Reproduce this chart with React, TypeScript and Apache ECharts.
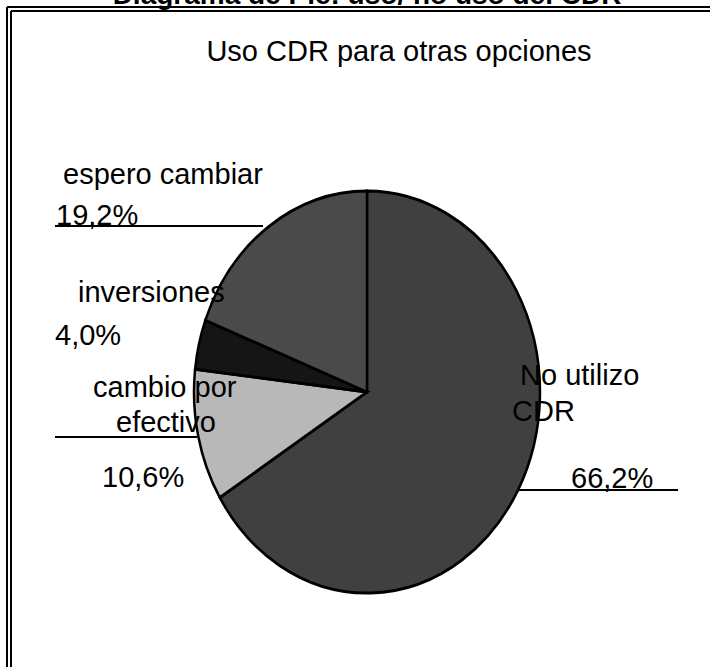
import React, { useEffect, useRef } from "react";
import * as echarts from "echarts";

// ---- data ----
const categories: string[] = ["No utilizo\nCDR", "cambio por\nefectivo", "inversiones", "espero cambiar"];
const values: number[] = [66.2, 10.6, 4.0, 19.2];
const sliceColors: string[] = ["#404040", "#b8b8b8", "#151515", "#4a4a4a"];
const mainTitle = "Diagrama de Pie: uso/ no uso del CDR";
const subTitle = "Uso CDR para otras opciones";

// ---- layout ----
const W = 710;
const H = 667;
const CX = 367;
const CY = 392;
const RX = 173;
const RY = 201;
const FONT = "'Liberation Sans', Arial, Helvetica, sans-serif";
const LABEL_SIZE = 29;

// per slice: name-line positions (left x, middle y), percent position, leader line [x1, x2, y]
const labelLayout = [
  { names: [[520, 375], [512, 411]], pct: [571, 478], leader: [518, 678, 490] },
  { names: [[93, 387], [116, 422]], pct: [102, 477], leader: [55, 197, 437] },
  { names: [[78, 292]], pct: [55, 335], leader: null },
  { names: [[63, 174]], pct: [56, 215], leader: [55, 263, 226] },
];

const fmtPct = (v: number) => v.toFixed(1).replace(".", ",") + "%";

export default function App() {
  const ref = useRef<HTMLDivElement>(null);

  useEffect(() => {
    if (!ref.current) return;
    const chart = echarts.init(ref.current, undefined, { renderer: "svg" });
    const total = values.reduce((a, b) => a + b, 0);

    const graphics: any[] = [];
    // double frame (left + top)
    graphics.push(
      { type: "line", shape: { x1: 7, y1: 7, x2: W, y2: 7 }, style: { stroke: "#000", lineWidth: 2 }, z: 50 },
      { type: "line", shape: { x1: 7, y1: 7, x2: 7, y2: H }, style: { stroke: "#000", lineWidth: 2 }, z: 50 },
      { type: "line", shape: { x1: 11, y1: 11, x2: W, y2: 11 }, style: { stroke: "#000", lineWidth: 2 }, z: 50 },
      { type: "line", shape: { x1: 11, y1: 11, x2: 11, y2: H }, style: { stroke: "#000", lineWidth: 2 }, z: 50 }
    );
    graphics.push({
      type: "text",
      x: 367,
      y: -6,
      z: 50,
      style: {
        text: mainTitle,
        font: `bold 28px ${FONT}`,
        fill: "#000",
        align: "center",
        verticalAlign: "middle",
      },
    });
    graphics.push({
      type: "text",
      x: 399,
      y: 51,
      z: 50,
      style: {
        text: subTitle,
        font: `29px ${FONT}`,
        fill: "#000",
        align: "center",
        verticalAlign: "middle",
      },
    });

    categories.forEach((name, i) => {
      const lay = labelLayout[i];
      const parts = name.split("\n");
      parts.forEach((p, k) => {
        graphics.push({
          type: "text",
          x: lay.names[k][0],
          y: lay.names[k][1],
          z: 60,
          style: { text: p, font: `${LABEL_SIZE}px ${FONT}`, fill: "#000", align: "left", verticalAlign: "middle" },
        });
      });
      graphics.push({
        type: "text",
        x: lay.pct[0],
        y: lay.pct[1],
        z: 60,
        style: { text: fmtPct(values[i]), font: `${LABEL_SIZE}px ${FONT}`, fill: "#000", align: "left", verticalAlign: "middle" },
      });
      if (lay.leader) {
        graphics.push({
          type: "line",
          z: 60,
          shape: { x1: lay.leader[0], y1: lay.leader[2], x2: lay.leader[1], y2: lay.leader[2] },
          style: { stroke: "#000", lineWidth: 2 },
        });
      }
    });

    chart.setOption({
      animation: false,
      backgroundColor: "#fff",
      series: [
        {
          type: "custom",
          coordinateSystem: "none",
          data: values.map((v, i) => ({ name: categories[i], value: v })),
          renderItem: (params: any, api: any) => {
            const i = params.dataIndex;
            let before = 0;
            for (let k = 0; k < i; k++) before += values[k];
            const start = -Math.PI / 2 + (2 * Math.PI * before) / total;
            const end = start + (2 * Math.PI * api.value(0)) / total;
            return {
              type: "sector",
              x: CX,
              y: CY,
              scaleY: RY / RX,
              shape: { cx: 0, cy: 0, r0: 0, r: RX, startAngle: start, endAngle: end, clockwise: true },
              style: { fill: sliceColors[i], stroke: "#000", lineWidth: 2.5, strokeNoScale: true },
            };
          },
        },
      ],
      graphic: graphics,
    });

    return () => chart.dispose();
  }, []);

  return (
    <div
      ref={ref}
      style={{ position: "fixed", left: 0, top: 0, width: W, height: H, background: "#fff" }}
    />
  );
}
